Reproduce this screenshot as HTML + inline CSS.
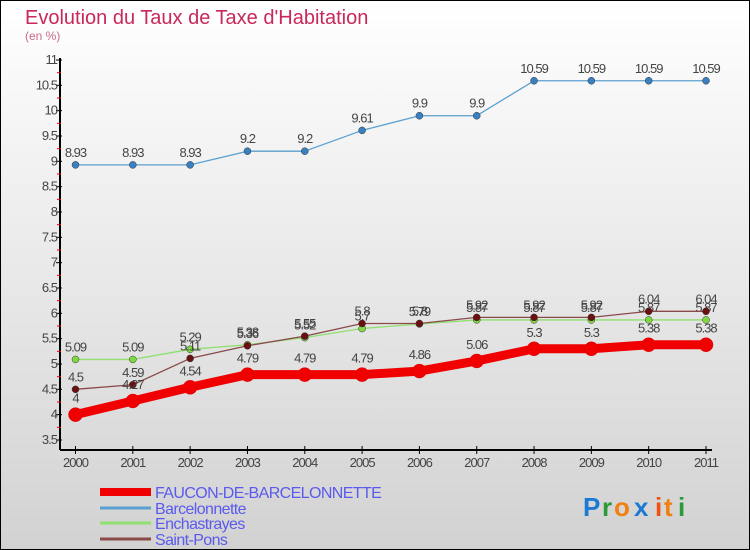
<!DOCTYPE html>
<html><head><meta charset="utf-8"><style>
body{margin:0}
svg{display:block;font-family:"Liberation Sans",sans-serif}
</style></head><body>
<svg id="c" width="750" height="550" xmlns="http://www.w3.org/2000/svg">
<defs><linearGradient id="bg" x1="0" y1="0" x2="0" y2="1"><stop offset="0" stop-color="#ffffff"/><stop offset="1" stop-color="#d2d2d2"/></linearGradient></defs>
<rect x="0.5" y="0.5" width="749" height="549" fill="url(#bg)" stroke="#000"/>
<text x="25" y="24" font-size="20" fill="#c8285a">Evolution du Taux de Taxe d'Habitation</text>
<text x="25" y="40" font-size="12" fill="#c86a8c">(en %)</text>
<g id="axes"></g><g id="series"></g><g id="legend"></g>
<g font-size="26" font-weight="bold">
<text x="583" y="516" fill="#1a7ad4">P</text><text x="602" y="516" fill="#2a9a3a">r</text><text x="614" y="516" fill="#f08010">o</text><text x="634" y="516" fill="#1a7ad4">x</text><text x="655" y="516" fill="#f05010">i</text><text x="664" y="516" fill="#f08010">t</text><text x="678" y="516" fill="#2a9a3a">i</text>
</g>
</svg>
<script>
const years=[2000,2001,2002,2003,2004,2005,2006,2007,2008,2009,2010,2011];
const faucon=[4,4.27,4.54,4.79,4.79,4.79,4.86,5.06,5.3,5.3,5.38,5.38];
const barcelonnette=[8.93,8.93,8.93,9.2,9.2,9.61,9.9,9.9,10.59,10.59,10.59,10.59];
const enchastrayes=[5.09,5.09,5.29,5.38,5.52,5.7,5.79,5.87,5.87,5.87,5.87,5.87];
const saintPons=[4.5,4.59,5.11,5.36,5.55,5.8,5.8,5.92,5.92,5.92,6.04,6.04];
const yTicks=[3.5,4,4.5,5,5.5,6,6.5,7,7.5,8,8.5,9,9.5,10,10.5,11];
const NS='http://www.w3.org/2000/svg';
const X=i=>75.5+i*(706-75.5)/(years.length-1);
const Y=v=>440-(v-3.5)*(380/7.5);
function mk(p,t,a){const e=document.createElementNS(NS,t);for(const k in a)e.setAttribute(k,a[k]);p.appendChild(e);return e;}
const ax=document.getElementById('axes');
let l=mk(ax,'line',{x1:60,y1:Y(11)-2,x2:60,y2:450,stroke:'#000','stroke-width':2});


l=mk(ax,'line',{x1:60,y1:450,x2:712,y2:450,stroke:'#000','stroke-width':2});


yTicks.forEach(v=>{
 mk(ax,'line',{x1:56,y1:Y(v),x2:62,y2:Y(v),stroke:'#000'});
 if(v<11) mk(ax,'line',{x1:57,y1:Y(v+0.25),x2:61,y2:Y(v+0.25),stroke:'#e00'});
 const t=mk(ax,'text',{x:57,y:Y(v)+4,'text-anchor':'end','font-size':13,fill:'#444','letter-spacing':'-1'});
 t.textContent=String(v);
 
 
});
years.forEach((yr,i)=>{
 mk(ax,'line',{x1:X(i),y1:446,x2:X(i),y2:454,stroke:'#000'});
 const t=mk(ax,'text',{x:X(i),y:467,'text-anchor':'middle','font-size':13,fill:'#444','letter-spacing':'-1'});
 t.textContent=yr;
 
 
});
const sg=document.getElementById('series');
const series=[
 {n:'barcelonnette',d:barcelonnette,c:'#5aa0d0',dot:'#3a80c0',w:1.3,r:3.5,label:'Barcelonnette'},
 {n:'enchastrayes',d:enchastrayes,c:'#90e070',dot:'#80d840',w:1.3,r:3.5,label:'Enchastrayes'},
 {n:'saint-pons',d:saintPons,c:'#8a4a4a',dot:'#6a1010',w:1.3,r:3.5,label:'Saint-Pons'},
 {n:'faucon',d:faucon,c:'#f00000',dot:'#f00000',w:9,r:7,label:'FAUCON-DE-BARCELONNETTE'}
];
series.forEach(s=>{
 const g=mk(sg,'g',{});
 
 
 const p=mk(g,'polyline',{points:s.d.map((v,i)=>X(i)+','+Y(v)).join(' '),fill:'none',stroke:s.c,'stroke-width':s.w,'stroke-linejoin':'round'});
 
 
 s.d.forEach((v,i)=>{
  const c=mk(g,'circle',{cx:X(i),cy:Y(v),r:s.r,fill:s.dot,stroke:s.w>2?'#d00':'#333','stroke-width':0.5});
  
  
  const t=mk(g,'text',{x:X(i),y:Y(v)-(s.w>2?12:8),'text-anchor':'middle','font-size':13,fill:'#444','letter-spacing':'-1'});
  t.textContent=String(v);
  
  
 });
});
const lg=document.getElementById('legend');
const order=[3,0,1,2],ly=[492,508,523,539];
order.forEach((k,j)=>{
 const s=series[k];
 const g=mk(lg,'g',{});
 
 
 mk(g,'line',{x1:100,y1:ly[j],x2:151,y2:ly[j],stroke:s.c,'stroke-width':s.w>2?8:3});
 const t=mk(g,'text',{x:155,y:ly[j]+6,'font-size':16,fill:'#5a5aee','letter-spacing':'-0.6'});
 t.textContent=s.label;
});
</script>
</body></html>
